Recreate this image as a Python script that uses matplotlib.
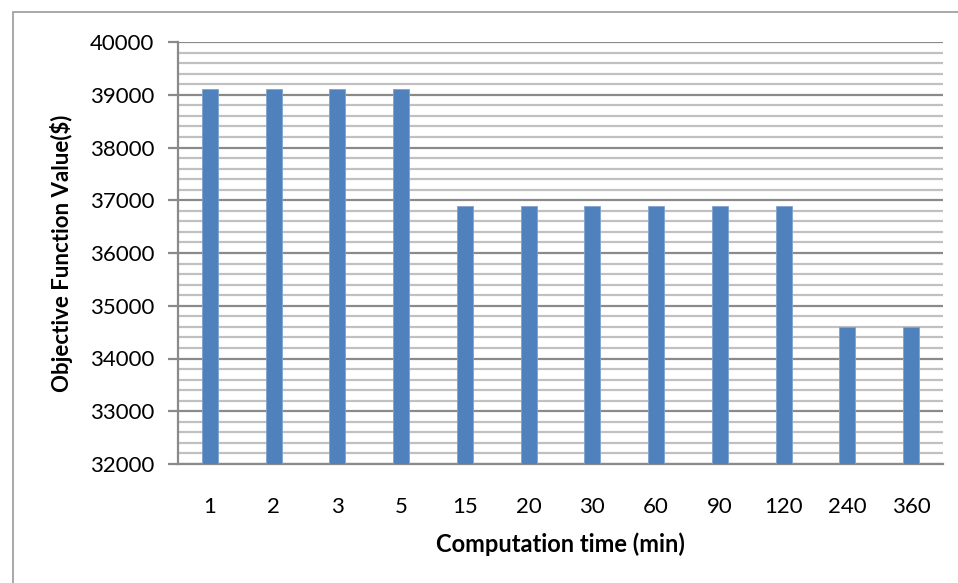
import matplotlib
matplotlib.use("Agg")
import matplotlib.pyplot as plt
from matplotlib.ticker import MultipleLocator
from matplotlib.patches import Rectangle

# Objective value reached for each computation-time budget
time_labels = ["1", "2", "3", "5", "15", "20", "30", "60", "90", "120", "240", "360"]
objective_values = [39100, 39100, 39100, 39100, 36900, 36900, 36900, 36900, 36900, 36900, 34600, 34600]

W, H = 958, 583
fig = plt.figure(figsize=(W / 100, H / 100), dpi=100)
plt.rcParams["font.family"] = ["Lato", "DejaVu Sans"]

# chart area frame (extends beyond the right and bottom edges)
fig.patches.append(Rectangle((12.5 / W, -0.1), 1.2, 1 - 12.5 / H + 0.1,
                             transform=fig.transFigure, fill=False,
                             edgecolor="#9a9a9a", linewidth=1.2))

left, right, top, bottom = 178, 943, 42, 464
ax = fig.add_axes([left / W, 1 - bottom / H, (right - left) / W, (bottom - top) / H])

x = range(len(time_labels))
ax.bar(x, objective_values, width=0.25, color="#4f81bd", edgecolor="#7fa3d0",
       linewidth=0.6, zorder=3)

ax.set_xlim(-0.5, len(time_labels) - 0.5)
ax.set_ylim(32000, 40000)
ax.yaxis.set_major_locator(MultipleLocator(1000))
ax.yaxis.set_minor_locator(MultipleLocator(200))
ax.set_xticks(list(x))
ax.set_xticklabels(time_labels)

ax.grid(which="minor", axis="y", color="#c0c0c0", linewidth=1.6, zorder=0)
ax.grid(which="major", axis="y", color="#8a8a8a", linewidth=1.6, zorder=1)

for s in ["top", "right"]:
    ax.spines[s].set_visible(False)
for s in ["left", "bottom"]:
    ax.spines[s].set_color("#8a8a8a")
    ax.spines[s].set_linewidth(1.6)

ax.tick_params(axis="y", which="major", length=7, width=1.6, color="#8a8a8a",
               labelsize=16, pad=10)
ax.tick_params(axis="y", which="minor", length=0)
ax.tick_params(axis="x", length=0, labelsize=16, pad=24)

ax.set_ylabel("Objective Function Value($)", fontsize=16, fontweight="bold", labelpad=12)
ax.set_xlabel("Computation time (min)", fontsize=17, fontweight="bold", labelpad=11)

fig.savefig("out.png", dpi=100)
